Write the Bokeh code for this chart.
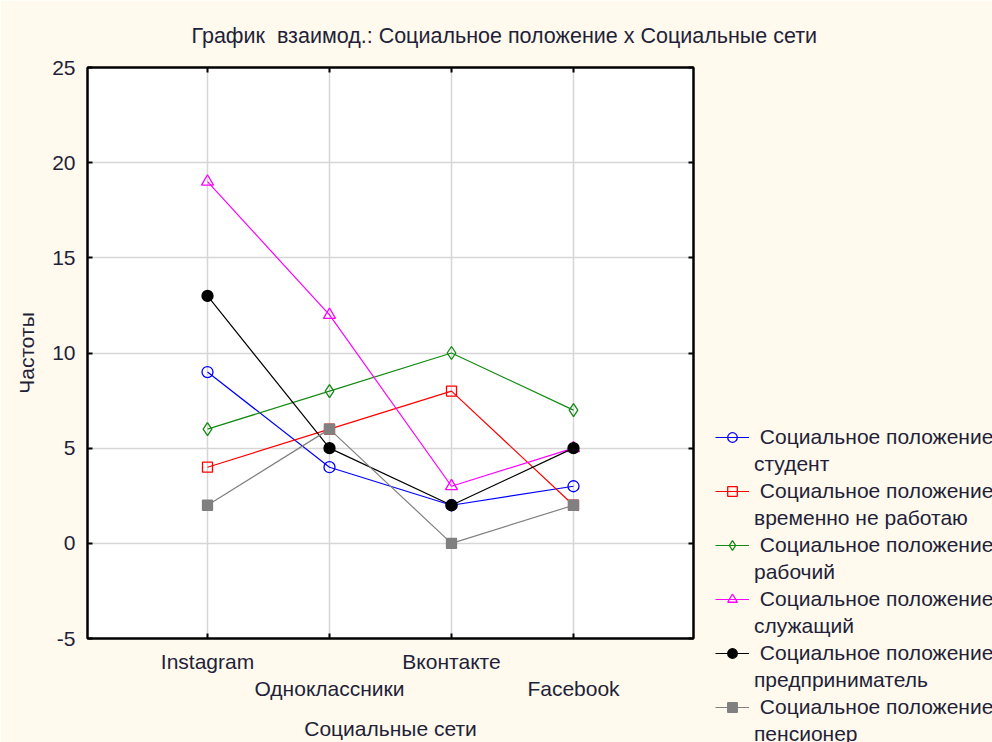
from bokeh.plotting import figure
from bokeh.models import Range1d, FixedTicker, LinearAxis, Legend, LegendItem
from bokeh.embed import file_html
from bokeh.resources import INLINE

# ---- data ----
networks = ["Instagram", "Одноклассники", "Вконтакте", "Facebook"]
student = [9, 4, 2, 3]
unemployed = [4, 6, 8, 2]
worker = [6, 8, 10, 7]
employee = [19, 12, 3, 5]
entrepreneur = [13, 5, 2, 5]
pensioner = [2, 6, 0, 2]
series_names = ["студент", "временно не работаю", "рабочий", "служащий",
                "предприниматель", "пенсионер"]
y_ticks = [-5, 0, 5, 10, 15, 20, 25]
title_text = "График \u00a0взаимод.: Социальное положение x Социальные сети"
legend_prefix = "\u00a0Социальное положение"

FONT = "Liberation Sans"
FS = "21px"
TXT = "#221f38"
BG = "#FFF9EE"

xs = list(range(1, len(networks) + 1))
x_start = 1 - 120 / 122
x_end = len(networks) + 120 / 122

p = figure(frame_width=606, frame_height=571,
           x_range=Range1d(x_start, x_end), y_range=Range1d(y_ticks[0], y_ticks[-1]),
           output_backend="svg", toolbar_location=None,
           min_border_left=87, min_border_right=299, min_border_top=67, min_border_bottom=104,
           background_fill_color="white", border_fill_color=BG,
           outline_line_color="black", outline_line_width=2)

p.title.text = title_text
p.title.text_font = FONT
p.title.text_font_size = "21.5px"
p.title.text_font_style = "normal"
p.title.text_color = TXT
p.title.align = "left"
p.title.offset = 104
p.title.standoff = 39

for ax in (p.xaxis[0], p.yaxis[0]):
    ax.major_tick_in = 5
    ax.major_tick_out = 0
    ax.minor_tick_line_color = None
    ax.major_tick_line_width = 2
    ax.axis_line_width = 2
    ax.axis_line_color = "black"
    ax.major_label_text_font = FONT
    ax.major_label_text_font_size = FS
    ax.major_label_text_color = TXT
    ax.axis_label_text_font = FONT
    ax.axis_label_text_font_size = FS
    ax.axis_label_text_font_style = "normal"
    ax.axis_label_text_color = TXT

p.xaxis[0].ticker = FixedTicker(ticks=xs)
p.xaxis[0].major_label_overrides = {
    x: (name if i % 2 == 0 else "\n" + name) for i, (x, name) in enumerate(zip(xs, networks))
}
p.xaxis[0].major_label_text_line_height = 1.2
p.xaxis[0].major_label_standoff = 11
p.xaxis[0].axis_label = "Социальные сети"
p.xaxis[0].axis_label_standoff = 14

p.yaxis[0].ticker = FixedTicker(ticks=y_ticks)
p.yaxis[0].major_label_overrides = {t: str(t) for t in y_ticks}
p.yaxis[0].major_label_standoff = 12
p.yaxis[0].axis_label = "Частоты"
p.yaxis[0].axis_label_standoff = 11

for loc, ticks in (("above", xs), ("right", y_ticks)):
    ax = LinearAxis(ticker=FixedTicker(ticks=ticks), major_tick_in=5, major_tick_out=0,
                    major_tick_line_width=2, minor_tick_line_color=None,
                    axis_line_width=2, major_label_overrides={t: "" for t in ticks},
                    major_label_standoff=0)
    p.add_layout(ax, loc)

p.xgrid.ticker = FixedTicker(ticks=xs)
p.ygrid.ticker = FixedTicker(ticks=y_ticks)
for g in (p.xgrid[0], p.ygrid[0]):
    g.grid_line_color = "#d6d6d6"
    g.grid_line_width = 1.5

styles = [
    ("#0000ff", "circle", 11, False),
    ("#ff0000", "square", 10, False),
    ("#138a13", "diamond", 13, False),
    ("#ff00ff", "triangle", 12, False),
    ("#000000", "circle", 11, True),
    ("#808080", "square", 10, True),
]
values = [student, unemployed, worker, employee, entrepreneur, pensioner]
items = []
for vals, name, (col, mk, sz, filled) in zip(values, series_names, styles):
    l = p.line(xs, vals, line_color=col, line_width=1.2)
    s = p.scatter(xs, vals, marker=mk, size=sz, line_color=col, line_width=1.3,
                  fill_color=col if filled else None)
    items.append(LegendItem(label=legend_prefix, renderers=[l, s]))
    # second text line of the legend entry (no key glyph)
    blank = p.scatter(x=[], y=[], size=0, line_color=None, fill_color=None)
    items.append(LegendItem(label=name, renderers=[blank]))

legend = Legend(items=items, location=(-211, -108), orientation="vertical",
                glyph_width=34, glyph_height=24, label_height=24, label_width=260,
                spacing=3, label_standoff=5, padding=0, margin=0,
                border_line_color=None, background_fill_color=None,
                label_text_font=FONT, label_text_font_size=FS, label_text_color=TXT,
                label_text_baseline="middle")
p.add_layout(legend, "right")

open("out.html", "w").write(file_html(p, INLINE))
